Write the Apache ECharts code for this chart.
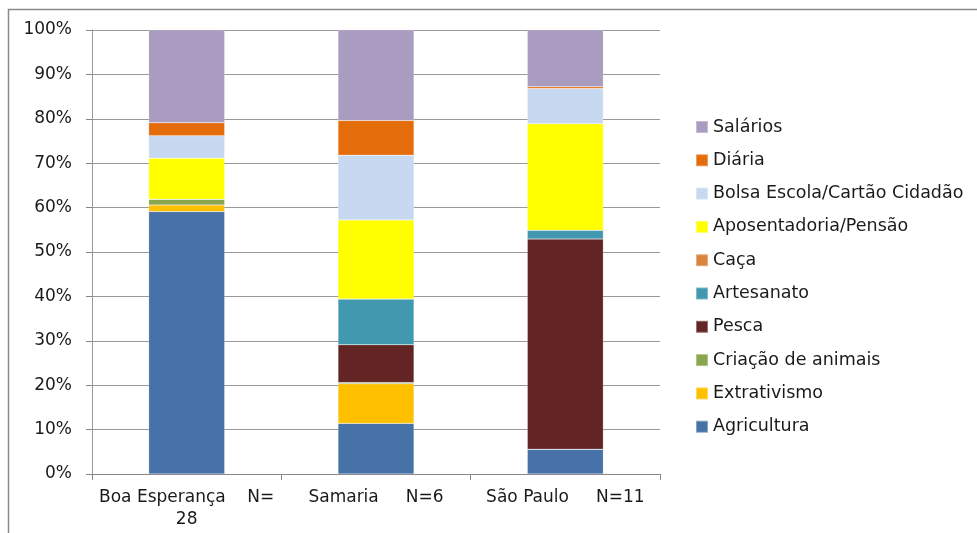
<!DOCTYPE html>
<html>
<head>
<meta charset="utf-8">
<script src="https://cdn.jsdelivr.net/npm/echarts@6/dist/echarts.min.js"></script>
<style>html,body{margin:0;padding:0;background:#fff;}#c{width:977px;height:533px;}</style>
</head>
<body>
<div id="c"></div>
<script>
const categories = ['Boa Esperança    N=\n28', 'Samaria     N=6', 'São Paulo     N=11'];
const seriesNames = ['Agricultura','Extrativismo','Criação de animais','Pesca','Artesanato','Caça','Aposentadoria/Pensão','Bolsa Escola/Cartão Cidadão','Diária','Salários'];
const agricultura = [59.1, 11.4, 5.6];
const extrativismo = [1.5, 8.9, 0];
const criacao = [1.3, 0.3, 0];
const pesca = [0, 8.5, 47.3];
const artesanato = [0, 10.3, 2.0];
const caca = [0, 0, 0];
const aposentadoria = [9.2, 17.8, 24.0];
const bolsa = [5.1, 14.6, 7.9];
const diaria = [2.9, 7.8, 0.4];
const salarios = [20.9, 20.7, 12.8];
const yTicks = [0,10,20,30,40,50,60,70,80,90,100];

const values = [agricultura, extrativismo, criacao, pesca, artesanato, caca, aposentadoria, bolsa, diaria, salarios];
const colors = ['#4672A8','#FFC000','#89A54E','#632523','#4198AF','#DB843D','#FFFF00','#C6D9F1','#E46C0A','#AA9BC0'];
const FONT = 'DejaVu Sans';

const chart = echarts.init(document.getElementById('c'));
chart.setOption({
  animation: false,
  textStyle: {fontFamily: FONT},
  graphic: [{type:'rect', shape:{x:8.5,y:9.5,width:1000,height:600}, style:{fill:'none', stroke:'#8a8a8a', lineWidth:1.5}, silent:true}],
  grid: {left: 92, top: 30, width: 568, height: 444},
  legend: {
    orient: 'vertical', left: 690, top: 113,
    itemWidth: 12, itemHeight: 12, itemGap: 15.3,
    icon: 'rect',
    data: seriesNames.slice().reverse(),
    textStyle: {fontSize: 17.5, color: '#1a1a1a', fontFamily: FONT, lineHeight: 17.5}
  },
  xAxis: {
    type: 'category', data: categories,
    axisLine: {lineStyle: {color: '#888'}},
    axisTick: {show: true, length: 6, lineStyle: {color: '#888'}},
    axisLabel: {fontSize: 17, color: '#1a1a1a', margin: 13, lineHeight: 22, interval: 0, fontFamily: FONT}
  },
  yAxis: {
    type: 'value', min: 0, max: 100, interval: 10,
    axisLine: {show: true, lineStyle: {color: '#999'}},
    axisTick: {show: true, length: 6, lineStyle: {color: '#888'}},
    splitLine: {lineStyle: {color: '#999'}},
    axisLabel: {fontSize: 17, color: '#1a1a1a', margin: 20, fontFamily: FONT, formatter: v => v + '%'}
  },
  series: seriesNames.map((n, i) => ({
    name: n, type: 'bar', stack: 'total', data: values[i],
    barWidth: 76,
    itemStyle: {color: colors[i], borderColor: 'rgba(255,255,255,0.35)', borderWidth: 0.5}
  }))
});
</script>
</body>
</html>
